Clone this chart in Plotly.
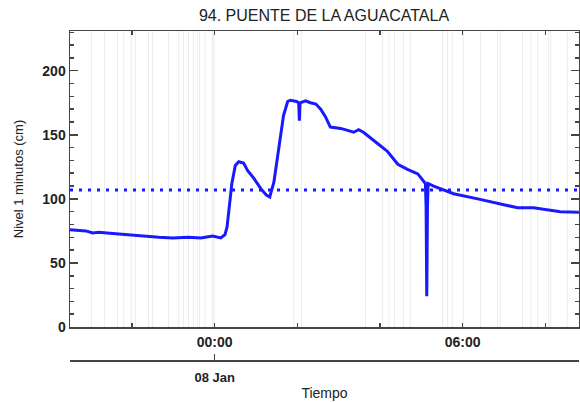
import plotly.graph_objects as go

title_text = "94. PUENTE DE LA AGUACATALA"
y_title = "Nivel 1 minutos (cm)"
x_title = "Tiempo"

times = [
    "2023-01-07 20:30", "2023-01-07 20:40", "2023-01-07 20:53", "2023-01-07 21:03",
    "2023-01-07 21:12", "2023-01-07 21:32", "2023-01-07 21:51", "2023-01-07 22:05",
    "2023-01-07 22:17", "2023-01-07 22:39", "2023-01-07 22:59", "2023-01-07 23:10",
    "2023-01-07 23:22", "2023-01-07 23:40", "2023-01-07 23:57", "2023-01-08 00:09",
    "2023-01-08 00:15", "2023-01-08 00:18", "2023-01-08 00:21", "2023-01-08 00:25",
    "2023-01-08 00:30", "2023-01-08 00:35", "2023-01-08 00:42", "2023-01-08 00:48",
    "2023-01-08 00:57", "2023-01-08 01:07", "2023-01-08 01:15", "2023-01-08 01:20",
    "2023-01-08 01:26", "2023-01-08 01:33", "2023-01-08 01:40", "2023-01-08 01:46",
    "2023-01-08 01:50", "2023-01-08 01:59", "2023-01-08 02:02", "2023-01-08 02:03",
    "2023-01-08 02:04", "2023-01-08 02:12", "2023-01-08 02:19", "2023-01-08 02:27",
    "2023-01-08 02:34", "2023-01-08 02:41", "2023-01-08 02:48", "2023-01-08 03:03",
    "2023-01-08 03:22", "2023-01-08 03:29", "2023-01-08 03:36", "2023-01-08 03:57",
    "2023-01-08 04:11", "2023-01-08 04:26", "2023-01-08 04:40", "2023-01-08 04:55",
    "2023-01-08 04:59", "2023-01-08 05:06", "2023-01-08 05:07", "2023-01-08 05:08",
    "2023-01-08 05:09", "2023-01-08 05:10", "2023-01-08 05:18", "2023-01-08 05:47",
    "2023-01-08 06:22", "2023-01-08 06:55", "2023-01-08 07:20", "2023-01-08 07:43",
    "2023-01-08 08:22", "2023-01-08 08:49",
]
values = [
    75.8, 75.5, 75.0, 73.4,
    74.0, 73.0, 72.0, 71.5,
    71.0, 70.0, 69.5, 70.0,
    70.0, 69.5, 71.0, 69.5,
    72.0, 78.0, 95.0, 112.0,
    126.0, 129.0, 128.0, 122.0,
    116.0, 108.0, 103.0, 101.5,
    113.0, 139.0, 165.0, 176.0,
    177.0, 176.0, 175.0, 161.0,
    175.0, 176.5, 175.0, 174.0,
    170.0, 164.0, 156.0, 155.0,
    152.0, 154.0, 152.0, 143.0,
    137.0, 127.0, 123.0, 119.5,
    117.0, 112.0, 94.0, 24.0,
    95.0, 112.0, 110.0, 104.0,
    100.0, 96.0, 93.0, 93.0,
    90.0, 89.5,
]

threshold = 107
x_range = ["2023-01-07 20:30", "2023-01-08 08:49"]
tick_vals = ["2023-01-07 22:00", "2023-01-08 00:00", "2023-01-08 02:00",
             "2023-01-08 04:00", "2023-01-08 06:00", "2023-01-08 08:00"]
tick_text = ["", "00:00", "", "", "06:00", ""]
date_tick_vals = ["2023-01-08 00:00"]
date_tick_text = ["08 Jan"]

gap_times = [
    "2023-01-07 21:01", "2023-01-07 21:20", "2023-01-07 21:39", "2023-01-07 21:48",
    "2023-01-07 21:59", "2023-01-07 22:05", "2023-01-07 22:24", "2023-01-07 22:30",
    "2023-01-07 22:53", "2023-01-07 23:08", "2023-01-07 23:15", "2023-01-07 23:22",
    "2023-01-07 23:29", "2023-01-07 23:35", "2023-01-07 23:38", "2023-01-07 23:46",
    "2023-01-07 23:57", "2023-01-07 23:59", "2023-01-08 01:55", "2023-01-08 02:06",
    "2023-01-08 03:39", "2023-01-08 04:04", "2023-01-08 04:13", "2023-01-08 04:21",
    "2023-01-08 04:34", "2023-01-08 04:44", "2023-01-08 05:31", "2023-01-08 05:38",
    "2023-01-08 05:45", "2023-01-08 06:01", "2023-01-08 06:26", "2023-01-08 06:51",
    "2023-01-08 06:55", "2023-01-08 07:27", "2023-01-08 07:39", "2023-01-08 07:49",
    "2023-01-08 08:05", "2023-01-08 08:08", "2023-01-08 08:32",
]

blue = "rgb(25,25,255)"
axis_color = "#444444"
font_family = "Liberation Sans, Arial, sans-serif"

fig = go.Figure()

for gt in gap_times:
    fig.add_shape(type="line", xref="x", yref="y domain", x0=gt, x1=gt, y0=0, y1=1,
                  line=dict(color="#ececec", width=1), layer="below")

fig.add_trace(go.Scatter(x=times, y=values, mode="lines",
                         line=dict(color=blue, width=3), showlegend=False,
                         hoverinfo="skip"))
fig.add_trace(go.Scatter(x=x_range, y=[threshold, threshold], mode="lines",
                         line=dict(color=blue, width=3, dash="3px,6px"), showlegend=False,
                         hoverinfo="skip"))
# invisible trace for the date axis
fig.add_trace(go.Scatter(x=x_range, y=[None, None], xaxis="x2", yaxis="y",
                         mode="lines", showlegend=False, hoverinfo="skip"))

fig.update_layout(
    width=580, height=402,
    margin=dict(l=70, r=1, t=31, b=42, autoexpand=False),
    paper_bgcolor="white", plot_bgcolor="white",
    font=dict(family=font_family, color="#222222"),
    hovermode=False,
    title=dict(text=title_text, x=0.5586, xanchor="center", y=0.9627, yanchor="middle",
               font=dict(size=16, color="#222222"), automargin=False),
    xaxis=dict(
        type="date", range=x_range, domain=[0, 1], anchor="y", automargin=False,
        tickvals=tick_vals, ticktext=tick_text,
        ticks="inside", ticklen=4, tickwidth=1.5, tickcolor=axis_color,
        showline=True, linecolor=axis_color, linewidth=1.5, mirror="ticks",
        showgrid=False, zeroline=False, ticklabelstandoff=2,
        tickfont=dict(size=14, weight="bold", color="#222222"),
    ),
    xaxis2=dict(
        type="date", range=x_range, overlaying="x", anchor="free", position=0,
        automargin=False,
        tickvals=date_tick_vals, ticktext=date_tick_text,
        ticks="inside", ticklen=6, tickwidth=1.5, tickcolor=axis_color,
        showline=True, linecolor=axis_color, linewidth=1.5,
        showgrid=False, zeroline=False, ticklabelstandoff=5,
        tickfont=dict(size=13, weight="bold", color="#222222"),
        title=dict(text=x_title, standoff=4, font=dict(size=14, color="#222222")),
    ),
    yaxis=dict(
        range=[0, 231], domain=[0.1003, 1], automargin=False,
        tickvals=[0, 50, 100, 150, 200],
        ticks="inside", ticklen=8, tickwidth=1.5, tickcolor=axis_color,
        minor=dict(dtick=10, ticks="inside", ticklen=4, tickcolor=axis_color, tickwidth=1.5),
        showline=True, linecolor=axis_color, linewidth=1.5, mirror="ticks",
        showgrid=False, zeroline=False,
        tickfont=dict(size=14, weight="bold", color="#222222"),
        title=dict(text=y_title, standoff=16, font=dict(size=13, color="#222222")),
    ),
)

fig.write_html(
    "out.html",
    config={"displayModeBar": False, "staticPlot": True},
    post_script="document.body.style.margin='0';document.body.style.overflow='hidden';",
)
